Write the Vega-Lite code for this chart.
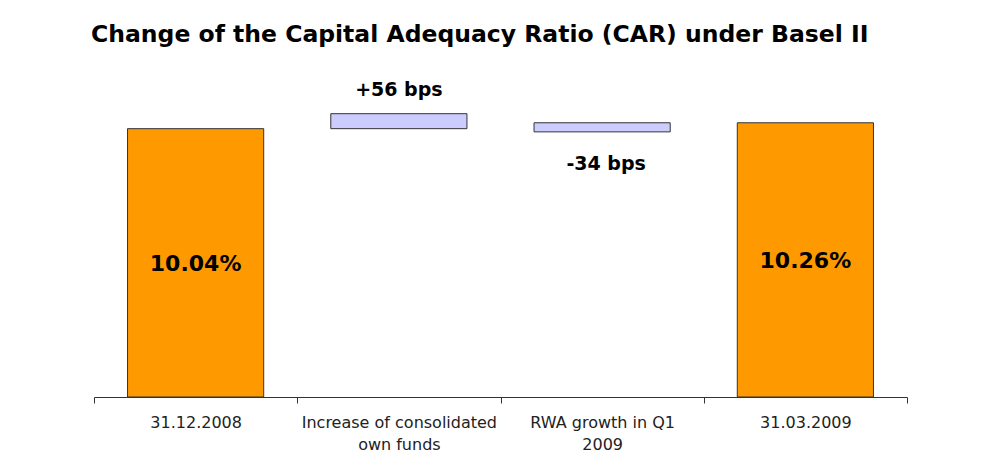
{
  "$schema": "https://vega.github.io/schema/vega-lite/v6.json",
  "width": 813,
  "height": 294,
  "autosize": {"type": "none"},
  "padding": {"left": 94, "top": 103, "right": 78, "bottom": 75},
  "background": "white",
  "title": {
    "text": "Change of the Capital Adequacy Ratio (CAR) under Basel II",
    "anchor": "start",
    "frame": "group",
    "font": "DejaVu Sans",
    "fontSize": 23.5,
    "fontWeight": "bold",
    "color": "black",
    "baseline": "middle",
    "offset": 22,
    "dx": -3
  },
  "config": {"view": {"stroke": null}},
  "data": {
    "values": [
      {"cat": "31.12.2008", "start": 0, "end": 10.04, "kind": "total", "label": "10.04%"},
      {"cat": "Increase of consolidated own funds", "start": 10.04, "end": 10.60, "kind": "delta", "label": "+56 bps"},
      {"cat": "RWA growth in Q1 2009", "start": 10.26, "end": 9.92, "kind": "delta", "label": "-34 bps"},
      {"cat": "31.03.2009", "start": 0, "end": 10.26, "kind": "total", "label": "10.26%"}
    ]
  },
  "encoding": {
    "x": {
      "field": "cat",
      "type": "nominal",
      "sort": null,
      "scale": {"paddingInner": 0, "paddingOuter": 0},
      "axis": {
        "title": null,
        "labelAngle": 0,
        "domainColor": "#333333",
        "tickColor": "#333333",
        "tickSize": 6,
        "tickBand": "extent",
        "labelFont": "DejaVu Sans",
        "labelFontSize": 16,
        "labelColor": "#222222",
        "labelPadding": 11,
        "labelLineHeight": 22,
        "labelBaseline": "top",
        "labelLimit": 0,
        "labelExpr": "datum.value == 'Increase of consolidated own funds' ? ['Increase of consolidated', 'own funds'] : datum.value == 'RWA growth in Q1 2009' ? ['RWA growth in Q1', '2009'] : datum.value"
      }
    }
  },
  "layer": [
    {
      "mark": {"type": "bar", "width": {"band": 0.67}, "stroke": "#333333", "strokeWidth": 1},
      "encoding": {
        "y": {"field": "start", "type": "quantitative", "scale": {"domain": [0, 11]}, "axis": null},
        "y2": {"field": "end"},
        "color": {
          "field": "kind",
          "type": "nominal",
          "scale": {"domain": ["total", "delta"], "range": ["#FF9900", "#CCCCFF"]},
          "legend": null
        }
      }
    },
    {
      "transform": [
        {"filter": "datum.kind == 'total'"},
        {"calculate": "(datum.start + datum.end) / 2", "as": "mid"}
      ],
      "mark": {"type": "text", "font": "DejaVu Sans", "fontSize": 22, "fontWeight": "bold", "baseline": "middle", "color": "black", "dy": 1},
      "encoding": {
        "y": {"field": "mid", "type": "quantitative"},
        "text": {"field": "label"}
      }
    },
    {
      "transform": [{"filter": "datum.label == '+56 bps'"}],
      "mark": {"type": "text", "font": "DejaVu Sans", "fontSize": 19, "fontWeight": "bold", "baseline": "middle", "color": "black", "dy": -24},
      "encoding": {
        "y": {"field": "end", "type": "quantitative"},
        "text": {"field": "label"}
      }
    },
    {
      "transform": [{"filter": "datum.label == '-34 bps'"}],
      "mark": {"type": "text", "font": "DejaVu Sans", "fontSize": 19, "fontWeight": "bold", "baseline": "middle", "color": "black", "dy": 32, "dx": 4},
      "encoding": {
        "y": {"field": "end", "type": "quantitative"},
        "text": {"field": "label"}
      }
    }
  ]
}
